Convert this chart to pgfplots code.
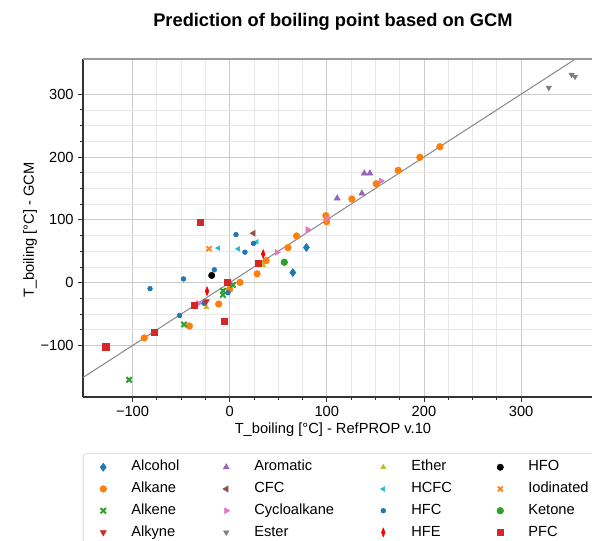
\documentclass[border=0pt]{standalone}
\usepackage{fontspec}
\setmainfont{Liberation Sans}
\usepackage{pgfplots}
\pgfplotsset{compat=1.18}
\definecolor{tabblue}{HTML}{1F77B4}
\definecolor{taborange}{HTML}{FF7F0E}
\definecolor{tabgreen}{HTML}{2CA02C}
\definecolor{tabred}{HTML}{D62728}
\definecolor{tabpurple}{HTML}{9467BD}
\definecolor{tabbrown}{HTML}{8C564B}
\definecolor{tabpink}{HTML}{E377C2}
\definecolor{tabgray}{HTML}{7F7F7F}
\definecolor{tabolive}{HTML}{BCBD22}
\definecolor{tabcyan}{HTML}{17BECF}
\definecolor{hfered}{HTML}{FF0000}
\newcommand{\fsz}{\fontsize{11}{13}\selectfont}
\begin{document}
\begin{tikzpicture}
\useasboundingbox (0,0) rectangle (444pt,405pt);
\clip (0,0) rectangle (444pt,405pt);
\begin{axis}[
  at={(62.25pt,107.25pt)}, anchor=south west,
  scale only axis, width=381.75pt, height=253.5pt,
  xmin=-151, xmax=373, ymin=-182, ymax=356,
  axis x line*=bottom, axis y line*=left,
  axis line style={-, black!80, line width=0.8pt},
  xtick={-100,0,100,200,300}, xticklabels={−100,0,100,200,300},
  ytick={-100,0,100,200,300}, yticklabels={−100,0,100,200,300},
  minor x tick num=3, minor y tick num=3,
  tick align=outside, major tick length=3.5pt, minor tick length=2pt,
  tick style={black!80, line width=0.6pt},
  grid=both,
  major grid style={gray!40, line width=0.6pt},
  minor grid style={gray!18, line width=0.5pt},
  ticklabel style={font=\fsz},
  xlabel={T\_boiling [°C] - RefPROP v.10},
  ylabel={T\_boiling [°C] - GCM},
  label style={font=\fsz},
  xlabel style={at={(axis description cs:0.491,-0.0976)}, anchor=center},
  ylabel style={at={(axis description cs:-0.104,0.494)}, anchor=center},
  title={\bfseries Prediction of boiling point based on GCM},
  title style={font=\fontsize{13.7}{16}\selectfont, at={(axis description cs:0.491,1.085)}, anchor=center},
  legend columns=4,
  legend style={at={(axis description cs:0,-0.1666)}, anchor=north west,
    draw=gray!35, rounded corners=2pt, fill=white,
    inner xsep=4.5pt, inner ysep=5pt, row sep=5.8pt,
    nodes={inner xsep=0pt, inner ysep=0pt, text height=8pt, text depth=2.5pt, font=\fsz},
    /tikz/every odd column/.append style={column sep=10.5pt},
    /tikz/every even column/.append style={column sep=0pt}},
  legend cell align=left,
  legend image code/.code={\path[draw=none,fill=none] (0pt,-2pt) rectangle (21pt,2pt);\draw[mark repeat=2,mark phase=2,#1] plot coordinates {(0pt,0pt)(10.5pt,0pt)(21pt,0pt)};},
  every axis plot/.append style={only marks},
]
\addplot[no marks, sharp plot, gray!90, line width=0.8pt, forget plot] coordinates {(-151,-151) (356,356)};
% row 1
\addplot[mark=diamond*, mark size=3pt, color=tabblue] coordinates {(65,16) (79,56)};
\addlegendentry{\makebox[60.75pt][l]{Alcohol}}
\addplot[mark=triangle*, mark size=2.6pt, color=tabpurple] coordinates {(110.7,134.3) (136.1,142.2) (138.5,174) (144.3,174)};
\addlegendentry{\makebox[86.25pt][l]{Aromatic}}
\addplot[mark=triangle*, mark size=2.2pt, color=tabolive] coordinates {(-24,-39) (34.3,28)};
\addlegendentry{\makebox[56.25pt][l]{Ether}}
\addplot[mark=*, mark size=2.4pt, color=black] coordinates {(-18.5,11.5)};
\addlegendentry{\makebox[60pt][l]{HFO}}
% row 2
\addplot[mark=*, mark size=2.5pt, color=taborange] coordinates {(-88,-88) (-41.5,-69) (-11.3,-34) (0,-10.5) (10.6,0.5) (28.2,14) (37.5,35) (60,55.7) (68.9,74.3) (99,106.6) (99.8,97) (125.8,133.2) (150.8,157.5) (173.5,178.8) (195.8,199.5) (216.4,216.4)};
\addlegendentry{\makebox[60.75pt][l]{Alkane}}
\addplot[mark=triangle*, mark size=2.6pt, mark options={rotate=90}, color=tabbrown] coordinates {(24.5,78.6)};
\addlegendentry{\makebox[86.25pt][l]{CFC}}
\addplot[mark=triangle*, mark size=2pt, mark options={rotate=90}, color=tabcyan] coordinates {(-11.7,55) (8.8,53.8) (27.8,65)};
\addlegendentry{\makebox[56.25pt][l]{HCFC}}
\addplot[mark=x, mark size=2.6pt, mark options={line width=1.3pt}, color=taborange] coordinates {(-21.3,54)};
\addlegendentry{\makebox[60pt][l]{Iodinated}}
% row 3
\addplot[mark=x, mark size=2.8pt, mark options={line width=1.5pt}, color=tabgreen] coordinates {(-103.5,-154.5) (-47,-66.5) (-6.8,-13) (-7,-19.5) (3.4,-3.7)};
\addlegendentry{\makebox[60.75pt][l]{Alkene}}
\addplot[mark=triangle*, mark size=2.6pt, mark options={rotate=-90}, color=tabpink] coordinates {(-32.3,-33) (48.5,48.2) (80.3,84.5) (100,102) (155.7,161.8)};
\addlegendentry{\makebox[86.25pt][l]{Cycloalkane}}
\addplot[mark=*, mark size=1.8pt, color=tabblue] coordinates {(-82,-9.5) (-47.5,5.9) (-51.6,-52.3) (-26.4,-32.8) (-15.8,20.5) (-1.8,-16) (6.5,76.5) (15.7,48.5) (24.5,62.5)};
\addlegendentry{\makebox[56.25pt][l]{HFC}}
\addplot[mark=*, mark size=2.5pt, color=tabgreen] coordinates {(56.2,32.5)};
\addlegendentry{\makebox[60pt][l]{Ketone}}
% row 4
\addplot[mark=triangle*, mark size=2.6pt, mark options={rotate=180}, color=tabred] coordinates {(-24,-29.6)};
\addlegendentry{\makebox[60.75pt][l]{Alkyne}}
\addplot[mark=triangle*, mark size=2.3pt, mark options={rotate=180}, color=tabgray] coordinates {(328.5,310.3) (352,331) (355.5,328)};
\addlegendentry{\makebox[86.25pt][l]{Ester}}
\addplot[mark=diamond*, mark size=3pt, mark options={xscale=0.6, yscale=1.1}, color=hfered] coordinates {(-23.3,-13.5) (34.5,45.5)};
\addlegendentry{\makebox[56.25pt][l]{HFE}}
\addplot[mark=square*, mark size=2.3pt, color=tabred] coordinates {(-127.6,-102) (-77.7,-78.7) (-36.3,-36) (-30,95.8) (-5.5,-61) (-2.2,0.3) (29.4,31)};
\addlegendentry{\makebox[60pt][l]{PFC}}
\end{axis}
\draw[gray!80, line width=1.3pt] (62.25pt,360.75pt) -- (444pt,360.75pt);
\end{tikzpicture}
\end{document}
